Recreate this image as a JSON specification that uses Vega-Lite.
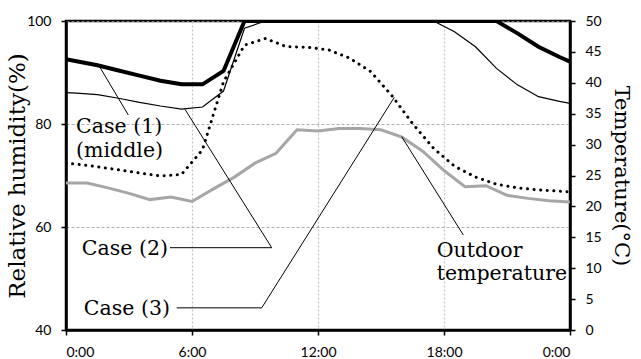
{
  "$schema": "https://vega.github.io/schema/vega-lite/v6.json",
  "width": 504,
  "height": 309,
  "autosize": {"type": "none"},
  "padding": {"left": 66, "top": 21, "right": 71, "bottom": 29},
  "background": "white",
  "config": {
    "view": {"stroke": "black", "strokeWidth": 2.5},
    "axis": {
      "domainColor": "black", "domainWidth": 2.5,
      "tickColor": "black", "tickWidth": 1.5, "tickSize": 5,
      "labelFont": "Lato", "labelFontSize": 14, "labelColor": "black", "labelPadding": 10,
      "titleFont": "DejaVu Serif", "titleFontSize": 23, "titleFontWeight": "normal", "titleColor": "black"
    }
  },
  "datasets": {
    "hum": [
      {"h": 0, "s": "c1", "v": 92.6}, {"h": 0.5, "s": "c1", "v": 92.2}, {"h": 1.5, "s": "c1", "v": 91.4}, {"h": 2.5, "s": "c1", "v": 90.4},
      {"h": 3.5, "s": "c1", "v": 89.4}, {"h": 4.5, "s": "c1", "v": 88.4}, {"h": 5.5, "s": "c1", "v": 87.7}, {"h": 6.5, "s": "c1", "v": 87.7},
      {"h": 7.5, "s": "c1", "v": 90.3}, {"h": 8.5, "s": "c1", "v": 100}, {"h": 9.5, "s": "c1", "v": 100}, {"h": 10.5, "s": "c1", "v": 100},
      {"h": 11.5, "s": "c1", "v": 100}, {"h": 12.5, "s": "c1", "v": 100}, {"h": 13.5, "s": "c1", "v": 100}, {"h": 14.5, "s": "c1", "v": 100},
      {"h": 15.5, "s": "c1", "v": 100}, {"h": 16.5, "s": "c1", "v": 100}, {"h": 17.5, "s": "c1", "v": 100}, {"h": 18.5, "s": "c1", "v": 100},
      {"h": 19.5, "s": "c1", "v": 100}, {"h": 20.5, "s": "c1", "v": 100}, {"h": 21.5, "s": "c1", "v": 97.6}, {"h": 22.5, "s": "c1", "v": 95.0},
      {"h": 23.5, "s": "c1", "v": 93.0}, {"h": 24, "s": "c1", "v": 92.1},
      {"h": 0, "s": "c2", "v": 86.1}, {"h": 0.5, "s": "c2", "v": 86.0}, {"h": 1.5, "s": "c2", "v": 85.7}, {"h": 2.5, "s": "c2", "v": 85.0},
      {"h": 3.5, "s": "c2", "v": 84.2}, {"h": 4.5, "s": "c2", "v": 83.5}, {"h": 5.5, "s": "c2", "v": 82.9}, {"h": 6.5, "s": "c2", "v": 83.3},
      {"h": 7.5, "s": "c2", "v": 86.4}, {"h": 8.5, "s": "c2", "v": 98.6}, {"h": 9.5, "s": "c2", "v": 100}, {"h": 10.5, "s": "c2", "v": 100},
      {"h": 11.5, "s": "c2", "v": 100}, {"h": 12.5, "s": "c2", "v": 100}, {"h": 13.5, "s": "c2", "v": 100}, {"h": 14.5, "s": "c2", "v": 100},
      {"h": 15.5, "s": "c2", "v": 100}, {"h": 16.5, "s": "c2", "v": 100}, {"h": 17.5, "s": "c2", "v": 100}, {"h": 18.5, "s": "c2", "v": 97.9},
      {"h": 19.5, "s": "c2", "v": 95.0}, {"h": 20.5, "s": "c2", "v": 90.8}, {"h": 21.5, "s": "c2", "v": 87.6}, {"h": 22.5, "s": "c2", "v": 85.3},
      {"h": 23.5, "s": "c2", "v": 84.4}, {"h": 24, "s": "c2", "v": 84.0},
      {"h": 0, "s": "c3", "v": 72.4}, {"h": 0.5, "s": "c3", "v": 72.2}, {"h": 1.5, "s": "c3", "v": 71.7}, {"h": 2.5, "s": "c3", "v": 71.1},
      {"h": 3.5, "s": "c3", "v": 70.5}, {"h": 4.5, "s": "c3", "v": 69.9}, {"h": 5.5, "s": "c3", "v": 70.2}, {"h": 6.5, "s": "c3", "v": 75.0},
      {"h": 7.5, "s": "c3", "v": 88.2}, {"h": 8.5, "s": "c3", "v": 95.3}, {"h": 9.5, "s": "c3", "v": 96.6}, {"h": 10.5, "s": "c3", "v": 95.0},
      {"h": 11.5, "s": "c3", "v": 94.9}, {"h": 12.5, "s": "c3", "v": 94.4}, {"h": 13.5, "s": "c3", "v": 92.8}, {"h": 14.5, "s": "c3", "v": 90.2},
      {"h": 15.5, "s": "c3", "v": 85.6}, {"h": 16.5, "s": "c3", "v": 80.1}, {"h": 17.5, "s": "c3", "v": 75.3}, {"h": 18.5, "s": "c3", "v": 71.8},
      {"h": 19.5, "s": "c3", "v": 69.7}, {"h": 20.5, "s": "c3", "v": 68.3}, {"h": 21.5, "s": "c3", "v": 67.6}, {"h": 22.5, "s": "c3", "v": 67.2},
      {"h": 23.5, "s": "c3", "v": 66.95}, {"h": 24, "s": "c3", "v": 66.8}
    ],
    "temp": [
      {"h": 0, "t": 23.8}, {"h": 1, "t": 23.8}, {"h": 2, "t": 23.0}, {"h": 3, "t": 22.1}, {"h": 4, "t": 21.1},
      {"h": 5, "t": 21.5}, {"h": 6, "t": 20.8}, {"h": 7, "t": 22.8}, {"h": 8, "t": 24.7}, {"h": 9, "t": 27.0},
      {"h": 10, "t": 28.6}, {"h": 11, "t": 32.4}, {"h": 12, "t": 32.2}, {"h": 13, "t": 32.6}, {"h": 14, "t": 32.6},
      {"h": 15, "t": 32.4}, {"h": 16, "t": 31.2}, {"h": 17, "t": 28.9}, {"h": 18, "t": 25.8}, {"h": 19, "t": 23.2},
      {"h": 20, "t": 23.35}, {"h": 21, "t": 21.8}, {"h": 22, "t": 21.3}, {"h": 23, "t": 20.9}, {"h": 24, "t": 20.7}
    ],
    "leaders": [
      {"g": "c1", "i": 0, "h": 1.571, "v": 91.32}, {"g": "c1", "i": 1, "h": 2.967, "v": 81.75},
      {"g": "c2", "i": 0, "h": 5.667, "v": 82.85}, {"g": "c2", "i": 1, "h": 9.795, "v": 55.98}, {"g": "c2", "i": 2, "h": 4.952, "v": 55.98},
      {"g": "c3", "i": 0, "h": 15.633, "v": 85.18}, {"g": "c3", "i": 1, "h": 9.319, "v": 44.3}, {"g": "c3", "i": 2, "h": 5.271, "v": 44.3},
      {"g": "ot", "i": 0, "h": 15.986, "v": 77.53}, {"g": "ot", "i": 1, "h": 18.919, "v": 58.45}
    ],
    "labelsL": [
      {"h": 0.48, "v": 78.2, "t": "Case (1)\n(middle)"},
      {"h": 17.65, "v": 54.2, "t": "Outdoor\ntemperature"}
    ],
    "labelsR": [
      {"h": 4.857, "v": 54.6, "t": "Case (2)"},
      {"h": 4.95, "v": 42.9, "t": "Case (3)"}
    ]
  },
  "layer": [
    {
      "data": {"name": "temp"},
      "mark": {"type": "line", "color": "#a6a6a6", "strokeWidth": 3, "clip": true},
      "encoding": {
        "x": {"field": "h", "type": "quantitative", "scale": {"domain": [0, 24], "nice": false},
              "axis": {"values": [0, 6, 12, 18, 24], "labelExpr": "(datum.value % 24) + ':00'", "title": null,
                       "grid": true, "gridColor": "#c4c4c4", "gridDash": [2, 2], "gridWidth": 1.2}},
        "y": {"field": "t", "type": "quantitative", "scale": {"domain": [0, 50], "nice": false, "zero": false},
              "axis": {"orient": "right", "values": [0, 5, 10, 15, 20, 25, 30, 35, 40, 45, 50], "grid": false,
                       "title": "Temperature(°C)", "titleFontSize": 21, "titlePadding": 9}}
      }
    },
    {
      "layer": [
        {
          "data": {"name": "hum"},
          "transform": [{"filter": {"field": "s", "equal": "c3"}}],
          "mark": {"type": "line", "color": "black", "strokeWidth": 3, "strokeDash": [0.1, 6.5], "strokeCap": "round", "clip": true},
          "encoding": {
            "x": {"field": "h", "type": "quantitative", "scale": {"domain": [0, 24], "nice": false}},
            "y": {"field": "v", "type": "quantitative", "scale": {"domain": [40, 100], "nice": false, "zero": false},
                  "axis": {"orient": "left", "values": [40, 60, 80, 100], "grid": true, "gridColor": "#9a9a9a", "gridDash": [3, 2], "gridWidth": 0.8,
                           "title": "Relative humidity(%)", "titlePadding": -3}}
          }
        },
        {
          "data": {"name": "hum"},
          "transform": [{"filter": {"field": "s", "equal": "c2"}}],
          "mark": {"type": "line", "color": "black", "strokeWidth": 1.2, "clip": true},
          "encoding": {
            "x": {"field": "h", "type": "quantitative"},
            "y": {"field": "v", "type": "quantitative"}
          }
        },
        {
          "data": {"name": "hum"},
          "transform": [{"filter": {"field": "s", "equal": "c1"}}],
          "mark": {"type": "line", "color": "black", "strokeWidth": 4, "clip": true},
          "encoding": {
            "x": {"field": "h", "type": "quantitative"},
            "y": {"field": "v", "type": "quantitative"}
          }
        },
        {
          "data": {"name": "leaders"},
          "mark": {"type": "line", "color": "black", "strokeWidth": 1},
          "encoding": {
            "x": {"field": "h", "type": "quantitative"},
            "y": {"field": "v", "type": "quantitative"},
            "detail": {"field": "g"},
            "order": {"field": "i"}
          }
        },
        {
          "data": {"name": "labelsL"},
          "mark": {"type": "text", "align": "left", "baseline": "alphabetic", "lineBreak": "\n", "lineHeight": 23.5,
                   "font": "DejaVu Serif", "fontSize": 20.5, "color": "black"},
          "encoding": {
            "x": {"field": "h", "type": "quantitative"},
            "y": {"field": "v", "type": "quantitative"},
            "text": {"field": "t"}
          }
        },
        {
          "data": {"name": "labelsR"},
          "mark": {"type": "text", "align": "right", "baseline": "alphabetic",
                   "font": "DejaVu Serif", "fontSize": 20.5, "color": "black"},
          "encoding": {
            "x": {"field": "h", "type": "quantitative"},
            "y": {"field": "v", "type": "quantitative"},
            "text": {"field": "t"}
          }
        }
      ]
    }
  ],
  "resolve": {"scale": {"y": "independent"}}
}
